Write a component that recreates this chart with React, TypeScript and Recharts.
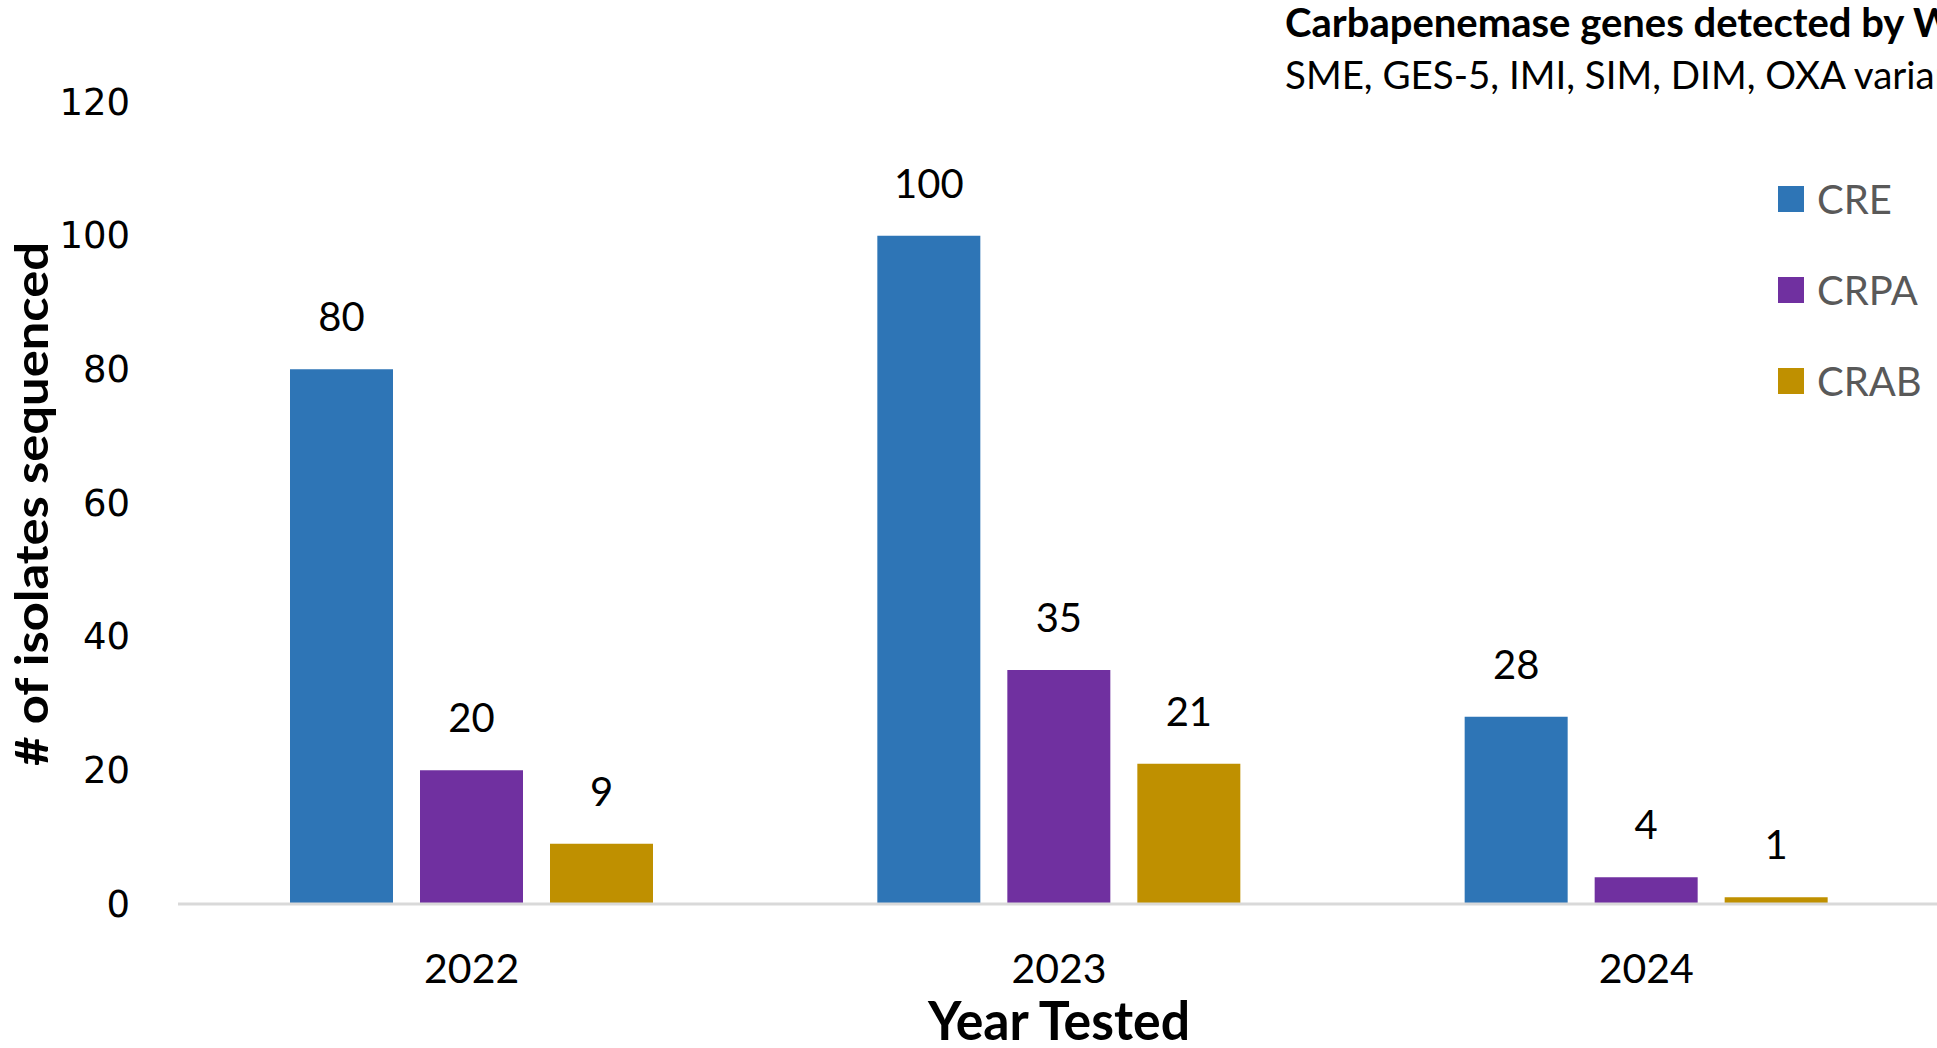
import { BarChart, Bar, XAxis, YAxis, LabelList, Legend } from 'recharts';

const years = ['2022', '2023', '2024'];
const cre = [80, 100, 28];
const crpa = [20, 35, 4];
const crab = [9, 21, 1];
const yTicks = [0, 20, 40, 60, 80, 100, 120];
const seriesNames = ['CRE', 'CRPA', 'CRAB'];

const COLORS = {
  CRE: '#2E75B6',
  CRPA: '#7030A0',
  CRAB: '#BF9000',
};

const data = years.map((year, i) => ({
  year,
  CRE: cre[i],
  CRPA: crpa[i],
  CRAB: crab[i],
}));

const LATO = 'Lato, "Open Sans", sans-serif';

const renderValue = (props: any) => {
  const { x, y, width, value } = props;
  return (
    <text
      x={Number(x) + Number(width) / 2}
      y={Number(y) - 53}
      textAnchor="middle"
      dominantBaseline="central"
      fontFamily={LATO}
      fontSize={40}
      fill="#000"
    >
      {value}
    </text>
  );
};

const YTick = (props: any) => {
  const { x, y, payload } = props;
  return (
    <text
      x={x - 40}
      y={y}
      textAnchor="end"
      dominantBaseline="central"
      fontFamily='"DejaVu Sans", sans-serif'
      fontSize={37}
      fill="#000"
    >
      {payload.value}
    </text>
  );
};

const XTick = (props: any) => {
  const { x, y, payload } = props;
  return (
    <text
      x={x}
      y={y + 55}
      textAnchor="middle"
      dominantBaseline="central"
      fontFamily={LATO}
      fontSize={41}
      fill="#000"
    >
      {payload.value}
    </text>
  );
};

// keep legend in series order (CRE, CRPA, CRAB)
const renderLegend = (props: any) => {
  const items = [...props.payload].sort(
    (a: any, b: any) => seriesNames.indexOf(a.value) - seriesNames.indexOf(b.value)
  );
  return (
    <div style={{ fontFamily: LATO }}>
      {items.map((entry: any) => (
        <div
          key={entry.value}
          style={{ display: 'flex', alignItems: 'center', height: 91 }}
        >
          <div style={{ width: 26, height: 26, background: entry.color, marginRight: 13 }} />
          <span style={{ fontSize: 40, color: '#595959' }}>{entry.value}</span>
        </div>
      ))}
    </div>
  );
};

export default function App() {
  return (
    <div
      style={{
        position: 'absolute',
        left: 0,
        top: 0,
        width: 1937,
        height: 1048,
        overflow: 'hidden',
        background: '#ffffff',
      }}
    >
      <BarChart
        width={1940}
        height={1048}
        data={data}
        margin={{ top: 102, right: 0, left: 0, bottom: 0 }}
        barSize={103}
        barGap={27}
      >
        <XAxis
          dataKey="year"
          height={144}
          axisLine={{ stroke: '#d9d9d9', strokeWidth: 3 }}
          tickLine={false}
          tick={<XTick />}
          label={{
            content: (p: any) => {
              const vb = p.viewBox;
              return (
                <text
                  x={vb.x + vb.width / 2}
                  y={1019}
                  textAnchor="middle"
                  dominantBaseline="central"
                  fontFamily={LATO}
                  fontWeight={700}
                  fontSize={54}
                  textLength={262}
                  lengthAdjust="spacingAndGlyphs"
                  fill="#000"
                >
                  Year Tested
                </text>
              );
            },
          }}
        />
        <YAxis
          width={178}
          domain={[0, 120]}
          ticks={yTicks}
          axisLine={false}
          tickLine={false}
          tick={<YTick />}
          label={{
            content: () => (
              <text
                x={30}
                y={504}
                transform="rotate(-90, 30, 504)"
                textAnchor="middle"
                dominantBaseline="central"
                fontFamily={LATO}
                fontWeight={700}
                fontSize={46}
                textLength={524}
                lengthAdjust="spacingAndGlyphs"
                fill="#000"
              >
                # of isolates sequenced
              </text>
            ),
          }}
        />
        <Legend
          layout="vertical"
          align="center"
          verticalAlign="middle"
          content={renderLegend}
          wrapperStyle={{ left: 1778, top: 153, width: 160 }}
        />
        <Bar dataKey="CRE" name="CRE" fill={COLORS.CRE} isAnimationActive={false}>
          <LabelList dataKey="CRE" content={renderValue} />
        </Bar>
        <Bar dataKey="CRPA" name="CRPA" fill={COLORS.CRPA} isAnimationActive={false}>
          <LabelList dataKey="CRPA" content={renderValue} />
        </Bar>
        <Bar dataKey="CRAB" name="CRAB" fill={COLORS.CRAB} isAnimationActive={false}>
          <LabelList dataKey="CRAB" content={renderValue} />
        </Bar>
      </BarChart>
      <svg
        width={1937}
        height={1048}
        style={{ position: 'absolute', left: 0, top: 0, pointerEvents: 'none' }}
      >
        <text x={1285} y={37} fontFamily={LATO} fontWeight={700} fontSize={40} fill="#000">
          Carbapenemase genes detected by WGS
        </text>
        <text x={1285} y={89} fontFamily={LATO} fontSize={38.5} fill="#000">
          SME, GES-5, IMI, SIM, DIM, OXA variants
        </text>
      </svg>
    </div>
  );
}
